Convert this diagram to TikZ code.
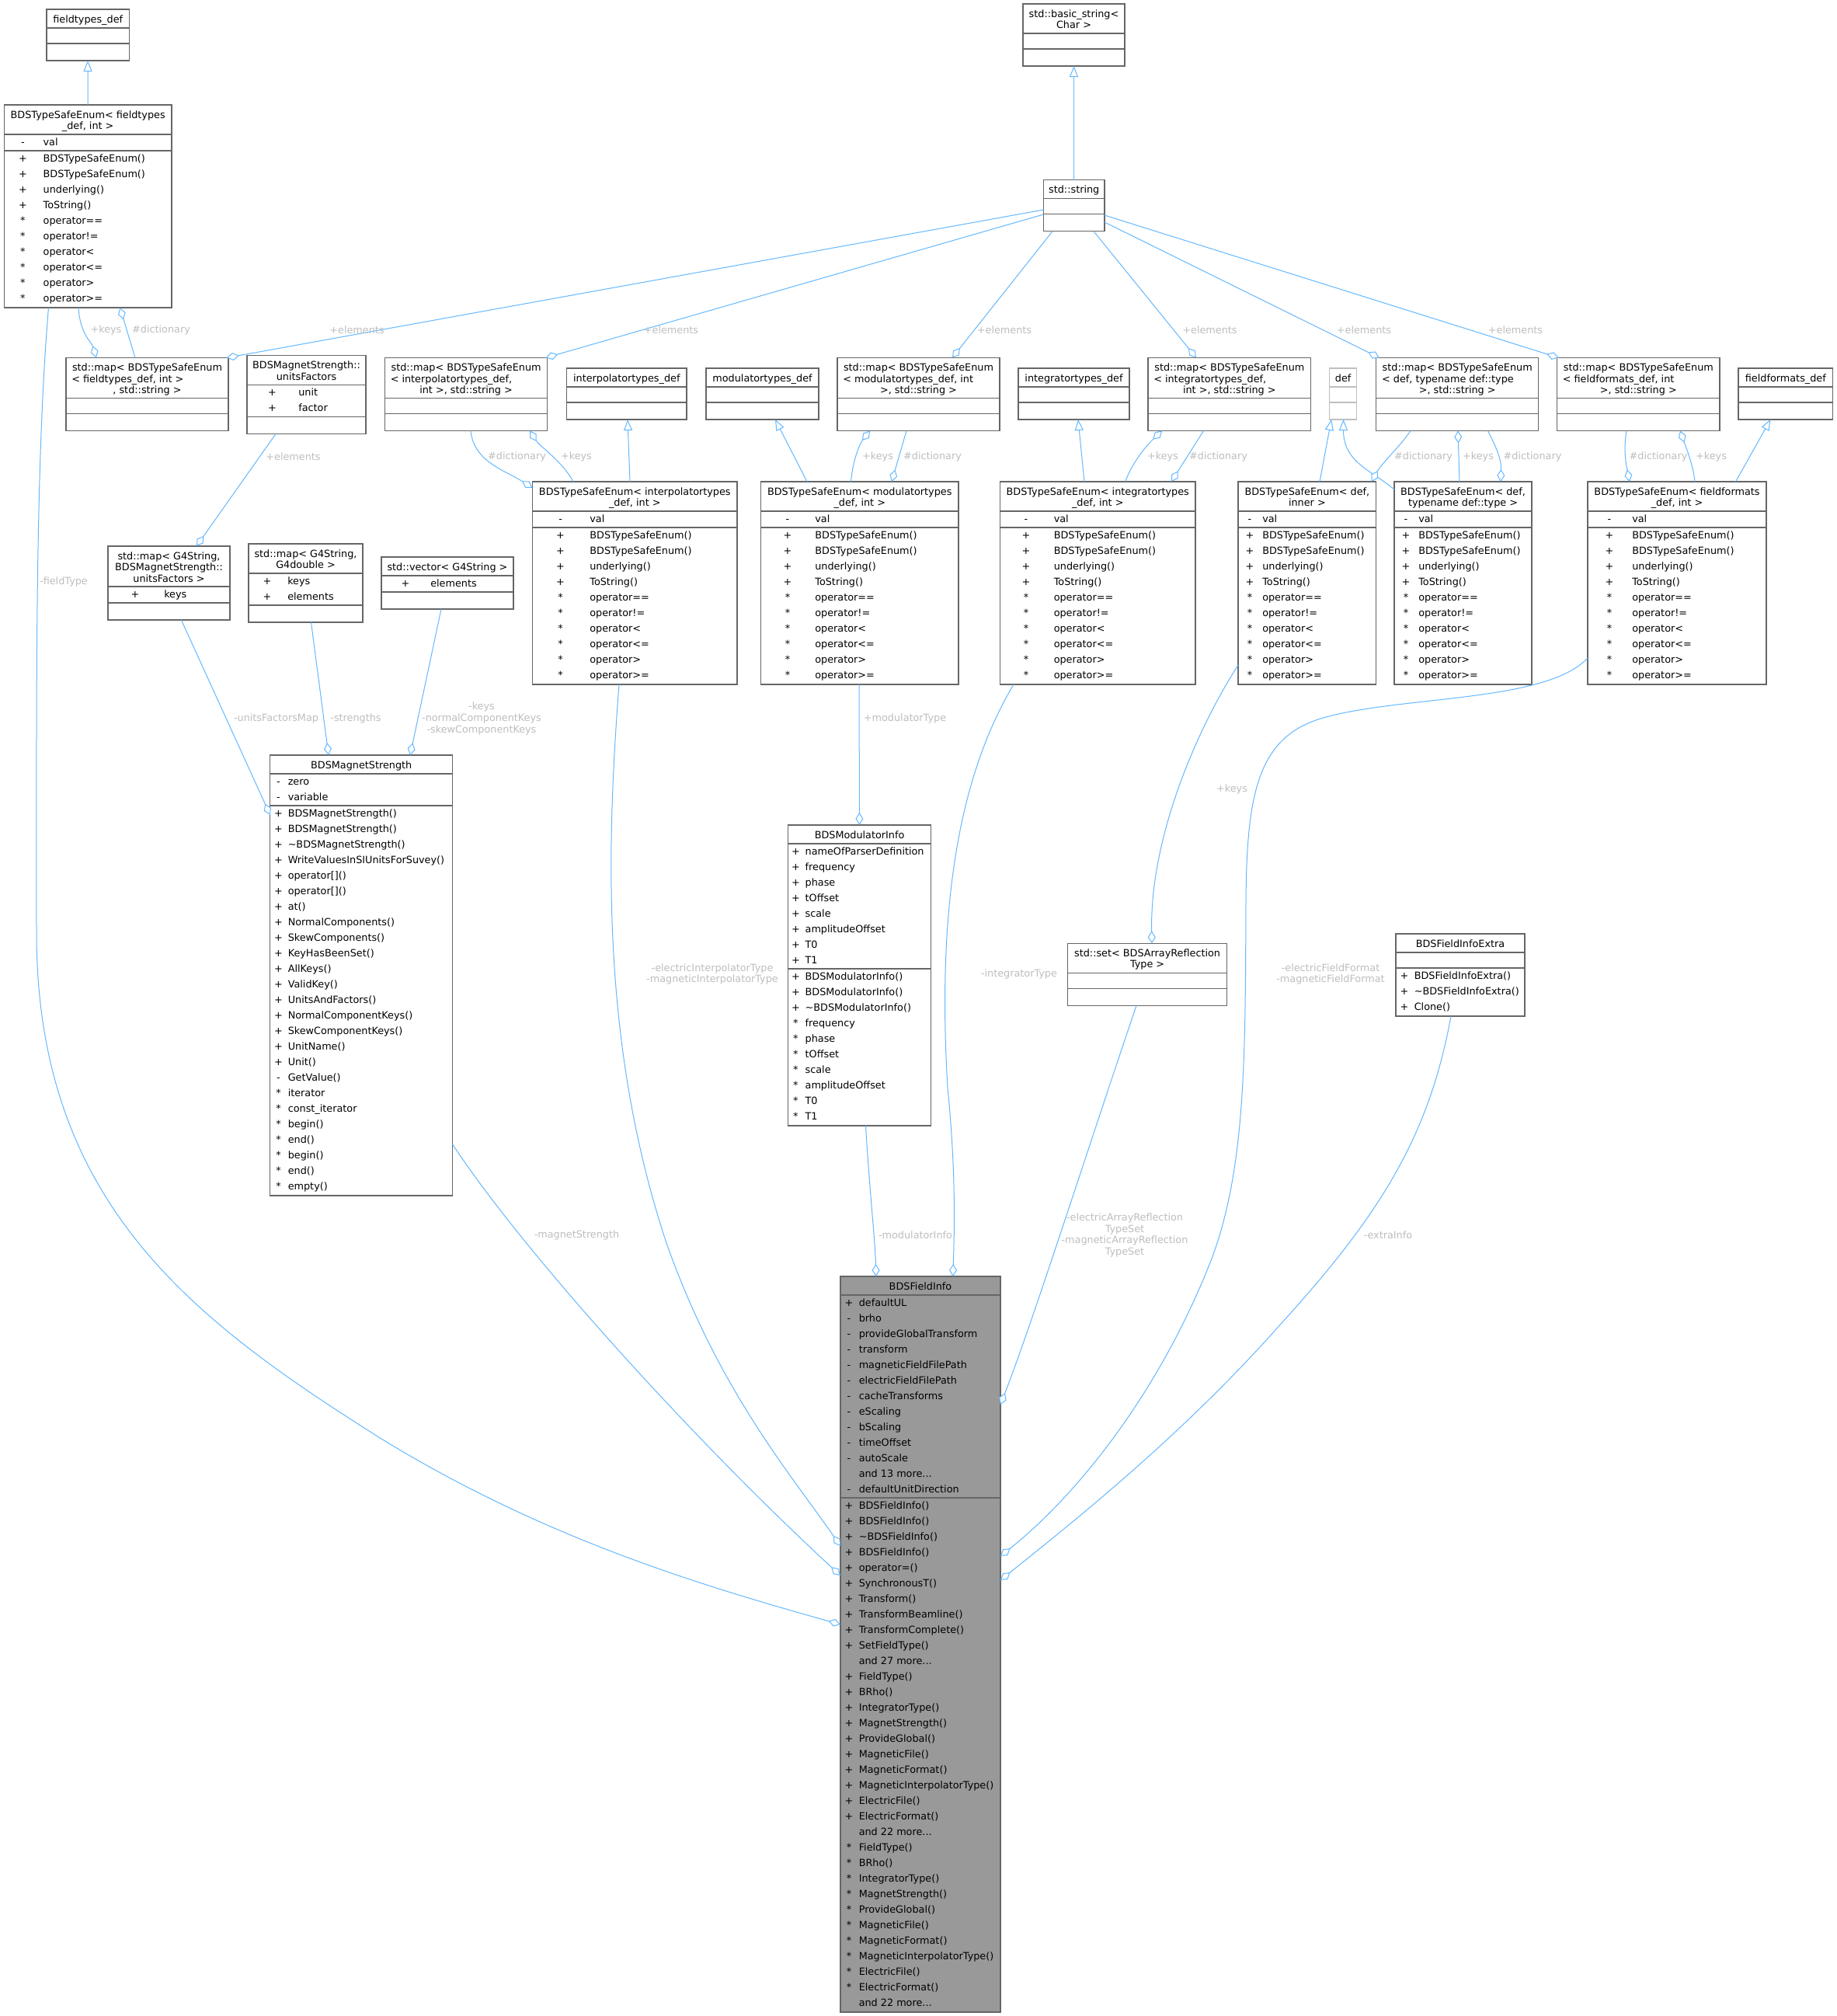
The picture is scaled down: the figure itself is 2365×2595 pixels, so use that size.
\documentclass[tikz,border=0pt]{standalone}
\usepackage{fontspec}
\setmainfont{DejaVu Sans}
\usetikzlibrary{fit,calc,arrows.meta}
\definecolor{edgeblue}{HTML}{63B8FF}
\definecolor{boxgray}{HTML}{666666}
\definecolor{defgray}{HTML}{BFBFBF}
\definecolor{labgray}{HTML}{BEBEBE}
\definecolor{mainfill}{HTML}{999999}
\newcommand\dfont{\fontsize{9.6}{10.95}\selectfont}
\newcommand\mdots{.{}.{}.}
\tikzset{
  umlbox/.style={draw=boxgray, fill=white, line width=0.9pt, inner sep=0pt, outer sep=0pt, rectangle},
  defbox/.style={draw=defgray},
  mainbox/.style={fill=mainfill},
  plainbox/.style={},
  rowtext/.style={font=\dfont, inner sep=0pt, text=black},
  lab/.style={font=\dfont, inner sep=0pt, text=labgray, align=center},
  conn/.style={draw=edgeblue, line width=0.75pt},
  agg/.style={conn, -{Diamond[fill=white, length=12pt, width=7.5pt]}},
  inh/.style={conn, -{Triangle[fill=white, length=10.5pt, width=8.25pt]}},
}
\newcommand\ubox[8]{%
  \pgfmathsetmacro\hT{10+14*#5}%
  \pgfmathsetmacro\hA{(#6==0)?20:(20*#6+1)}%
  \pgfmathsetmacro\hM{(#7==0)?22:(20*#7+2)}%
  \pgfmathsetmacro\yA{#3+\hT}%
  \pgfmathsetmacro\yM{\yA+\hA}%
  \pgfmathsetmacro\yB{\yM+\hM}%
  \pgfmathsetmacro\oM{\hT+\hA}%
  \expandafter\xdef\csname ub@#1@A\endcsname{\hT}%
  \expandafter\xdef\csname ub@#1@M\endcsname{\oM}%
  \node[umlbox,#8,fit={(#2,#3) (#4,\yB)}] (#1) {};
  \draw[draw=boxgray,line width=0.9pt,#8,fill=none] (#2,\yA) -- (#4,\yA) (#2,\yM) -- (#4,\yM);
}
\newcommand\urows[5]{%
  \edef\ubo{\csname ub@#1@#2\endcsname}%
  \foreach \sy/\tx [count=\ii from 0] in {#5}{%
    \pgfmathsetmacro\yy{\ubo+14+20*\ii}%
    \node[rowtext,anchor=base] (#1-#2-s\ii) at ($(#1.north west)+(#3,\yy)$) {\sy};
    \node[rowtext,anchor=base west] (#1-#2-t\ii) at ($(#1.north west)+(#4,\yy)$) {\tx};
  }%
}
\newcommand\utitle[3]{%
  \pgfmathsetmacro\yy{17+14.5*#2}%
  \node[rowtext,anchor=base] (#1-h#2) at ($(#1.north)+(0,\yy)$) {#3};}
\newcommand\utitleL[3]{%
  \pgfmathsetmacro\yy{17+14.5*#2}%
  \node[rowtext,anchor=base west] (#1-h#2) at ($(#1.north west)+(7,\yy)$) {#3};}
\newcommand\tserows[3]{%
  \urows{#1}{A}{#2}{#3}{-/val}%
  \urows{#1}{M}{#2}{#3}{+/BDSTypeSafeEnum(),+/BDSTypeSafeEnum(),+/underlying(),+/ToString(),*/operator==,*/operator!=,*/operator<,*/operator<=,*/operator>,*/operator>=}%
}
\begin{document}
\begin{tikzpicture}[x=0.75pt,y=-0.75pt]
\fill[white] (0,0) rectangle (2365,2595);
\useasboundingbox (0,0) rectangle (2365,2595);

% ---------- top rows ----------
\ubox{fdef}{60}{12}{166.5}{1}{0}{0}{plainbox}
\utitle{fdef}{0}{fieldtypes\_def}

\ubox{tsef}{5.4}{135}{221}{2}{1}{10}{plainbox}
\utitle{tsef}{0}{BDSTypeSafeEnum< fieldtypes}
\utitle{tsef}{1}{\_def, int >}
\tserows{tsef}{24}{50}

\ubox{bstr}{1317}{5}{1448}{2}{0}{0}{plainbox}
\utitle{bstr}{0}{std::basic\_string<}
\utitle{bstr}{1}{Char >}

\ubox{str}{1343.5}{231.7}{1422}{1}{0}{0}{plainbox}
\utitle{str}{0}{std::string}

\ubox{mapf}{85}{460.5}{294}{3}{0}{0}{plainbox}
\utitle{mapf}{0}{std::map< BDSTypeSafeEnum}
\utitleL{mapf}{1}{< fieldtypes\_def, int >}
\utitle{mapf}{2}{, std::string >}

\ubox{uf}{318}{457.5}{471}{2}{2}{0}{plainbox}
\utitle{uf}{0}{BDSMagnetStrength::}
\utitle{uf}{1}{unitsFactors}
\urows{uf}{A}{32.5}{66}{+/unit,+/factor}

\ubox{mapi}{495.5}{460.5}{704.7}{3}{0}{0}{plainbox}
\utitle{mapi}{0}{std::map< BDSTypeSafeEnum}
\utitleL{mapi}{1}{< interpolatortypes\_def,}
\utitle{mapi}{2}{int >, std::string >}

\ubox{idef}{729.6}{474}{884}{1}{0}{0}{plainbox}
\utitle{idef}{0}{interpolatortypes\_def}

\ubox{mdef}{909}{474}{1054}{1}{0}{0}{plainbox}
\utitle{mdef}{0}{modulatortypes\_def}

\ubox{mapm}{1078}{460.5}{1287}{3}{0}{0}{plainbox}
\utitle{mapm}{0}{std::map< BDSTypeSafeEnum}
\utitleL{mapm}{1}{< modulatortypes\_def, int}
\utitle{mapm}{2}{>, std::string >}

\ubox{intdef}{1311}{474}{1454}{1}{0}{0}{plainbox}
\utitle{intdef}{0}{integratortypes\_def}

\ubox{mapint}{1478}{460.5}{1687.7}{3}{0}{0}{plainbox}
\utitle{mapint}{0}{std::map< BDSTypeSafeEnum}
\utitleL{mapint}{1}{< integratortypes\_def,}
\utitle{mapint}{2}{int >, std::string >}

\ubox{def}{1711.7}{474}{1746.7}{1}{0}{0}{defbox}
\utitle{def}{0}{def}

\ubox{mapd}{1771.8}{460.5}{1980.6}{3}{0}{0}{plainbox}
\utitle{mapd}{0}{std::map< BDSTypeSafeEnum}
\utitleL{mapd}{1}{< def, typename def::type}
\utitle{mapd}{2}{>, std::string >}

\ubox{mapff}{2004.6}{460.5}{2214}{3}{0}{0}{plainbox}
\utitle{mapff}{0}{std::map< BDSTypeSafeEnum}
\utitleL{mapff}{1}{< fieldformats\_def, int}
\utitle{mapff}{2}{>, std::string >}

\ubox{ffdef}{2238}{474}{2359.7}{1}{0}{0}{plainbox}
\utitle{ffdef}{0}{fieldformats\_def}

% ---------- type safe enums ----------
\ubox{tsei}{685.6}{620}{949}{2}{1}{10}{plainbox}
\utitle{tsei}{0}{BDSTypeSafeEnum< interpolatortypes}
\utitle{tsei}{1}{\_def, int >}
\tserows{tsei}{36}{73.5}

\ubox{tsem}{979.5}{620}{1234}{2}{1}{10}{plainbox}
\utitle{tsem}{0}{BDSTypeSafeEnum< modulatortypes}
\utitle{tsem}{1}{\_def, int >}
\tserows{tsem}{34.5}{69.6}

\ubox{tseint}{1287.5}{620}{1539}{2}{1}{10}{plainbox}
\utitle{tseint}{0}{BDSTypeSafeEnum< integratortypes}
\utitle{tseint}{1}{\_def, int >}
\tserows{tseint}{33.5}{69}

\ubox{tsed1}{1594}{620}{1771.8}{2}{1}{10}{plainbox}
\utitle{tsed1}{0}{BDSTypeSafeEnum< def,}
\utitle{tsed1}{1}{inner >}
\tserows{tsed1}{15}{31}

\ubox{tsed2}{1795}{620}{1972}{2}{1}{10}{plainbox}
\utitle{tsed2}{0}{BDSTypeSafeEnum< def,}
\utitle{tsed2}{1}{typename def::type >}
\tserows{tsed2}{15}{31}

\ubox{tseff}{2044}{620}{2274}{2}{1}{10}{plainbox}
\utitle{tseff}{0}{BDSTypeSafeEnum< fieldformats}
\utitle{tseff}{1}{\_def, int >}
\tserows{tseff}{28}{57}

% ---------- magnet strength helpers ----------
\ubox{mapuf}{139}{703}{296}{3}{1}{0}{plainbox}
\utitle{mapuf}{0}{std::map< G4String,}
\utitle{mapuf}{1}{BDSMagnetStrength::}
\utitle{mapuf}{2}{unitsFactors >}
\urows{mapuf}{A}{35}{72}{+/keys}

\ubox{mapg4}{320}{700}{467}{2}{2}{0}{plainbox}
\utitle{mapg4}{0}{std::map< G4String,}
\utitle{mapg4}{1}{G4double >}
\urows{mapg4}{A}{24}{50}{+/keys,+/elements}

\ubox{vec}{491}{717}{661}{1}{1}{0}{plainbox}
\utitle{vec}{0}{std::vector< G4String >}
\urows{vec}{A}{31}{63}{+/elements}

\ubox{ms}{347.8}{972}{582.6}{1}{2}{25}{plainbox}
\utitle{ms}{0}{BDSMagnetStrength}
\urows{ms}{A}{10.7}{22.7}{-/zero,-/variable}
\urows{ms}{M}{10.7}{22.7}{+/BDSMagnetStrength(),+/BDSMagnetStrength(),+/\textasciitilde BDSMagnetStrength(),+/WriteValuesInSIUnitsForSuvey(),+/operator[](),+/operator[](),+/at(),+/NormalComponents(),+/SkewComponents(),+/KeyHasBeenSet(),+/AllKeys(),+/ValidKey(),+/UnitsAndFactors(),+/NormalComponentKeys(),+/SkewComponentKeys(),+/UnitName(),+/Unit(),-/GetValue(),*/iterator,*/const\_iterator,*/begin(),*/end(),*/begin(),*/end(),*/empty()}

\ubox{mod}{1014.4}{1062}{1198.7}{1}{8}{10}{plainbox}
\utitle{mod}{0}{BDSModulatorInfo}
\urows{mod}{A}{10}{22}{+/nameOfParserDefinition,+/frequency,+/phase,+/tOffset,+/scale,+/amplitudeOffset,+/T0,+/T1}
\urows{mod}{M}{10}{22}{+/BDSModulatorInfo(),+/BDSModulatorInfo(),+/\textasciitilde BDSModulatorInfo(),*/frequency,*/phase,*/tOffset,*/scale,*/amplitudeOffset,*/T0,*/T1}

\ubox{set}{1374.7}{1214.3}{1579.5}{2}{0}{0}{plainbox}
\utitle{set}{0}{std::set< BDSArrayReflection}
\utitle{set}{1}{Type >}

\ubox{extra}{1797}{1202}{1963}{1}{0}{3}{plainbox}
\utitle{extra}{0}{BDSFieldInfoExtra}
\urows{extra}{M}{11}{23.5}{+/BDSFieldInfoExtra(),+/\textasciitilde BDSFieldInfoExtra(),+/Clone()}

\ubox{fi}{1082}{1643}{1288}{1}{13}{33}{mainbox}
\utitle{fi}{0}{BDSFieldInfo}
\urows{fi}{A}{11}{23.5}{+/defaultUL,-/brho,-/provideGlobalTransform,-/transform,-/magneticFieldFilePath,-/electricFieldFilePath,-/cacheTransforms,-/eScaling,-/bScaling,-/timeOffset,-/autoScale,{}/and 13 more\mdots,-/defaultUnitDirection}
\urows{fi}{M}{11}{23.5}{+/BDSFieldInfo(),+/BDSFieldInfo(),+/\textasciitilde BDSFieldInfo(),+/BDSFieldInfo(),+/operator=(),+/SynchronousT(),+/Transform(),+/TransformBeamline(),+/TransformComplete(),+/SetFieldType(),{}/and 27 more\mdots,+/FieldType(),+/BRho(),+/IntegratorType(),+/MagnetStrength(),+/ProvideGlobal(),+/MagneticFile(),+/MagneticFormat(),+/MagneticInterpolatorType(),+/ElectricFile(),+/ElectricFormat(),{}/and 22 more\mdots,*/FieldType(),*/BRho(),*/IntegratorType(),*/MagnetStrength(),*/ProvideGlobal(),*/MagneticFile(),*/MagneticFormat(),*/MagneticInterpolatorType(),*/ElectricFile(),*/ElectricFormat(),{}/and 22 more\mdots}

% ---------- connectors ----------
\draw[inh] ($(tsef.north west)+(107.6,0)$) -- ($(fdef.south west)+(53,0)$);
\draw[agg] ($(tsef.south west)+(95.6,0)$) .. controls +(2,34) and +(-6,-20) .. ($(mapf.north west)+(39,0)$);
\draw[agg] ($(mapf.north west)+(89,0)$) -- ($(tsef.south west)+(149.1,0)$);
\draw[agg] ($(str.north west)+(0,38.3)$) -- ($(mapf.north east)+(-2,0)$);
\draw[agg] ($(str.north west)+(0,44.3)$) -- ($(mapi.north east)+(-2,0)$);
\draw[agg] ($(str.south west)+(11.5,0)$) -- ($(mapm.north west)+(148,0)$);
\draw[agg] ($(str.south west)+(64.5,0)$) -- ($(mapint.north west)+(62,0)$);
\draw[agg] ($(str.north east)+(0,54.3)$) -- ($(mapd.north west)+(4,0)$);
\draw[agg] ($(str.north east)+(0,45.3)$) -- ($(mapff.north west)+(2,0)$);
\draw[inh] ($(str.north west)+(39,0)$) -- ($(bstr.south west)+(65.5,0)$);
\draw[agg] ($(uf.south west)+(37,0)$) -- ($(mapuf.north west)+(114,0)$);
\draw[agg] ($(mapi.south west)+(110.5,0)$) .. controls +(4,40) and +(-36,-23) .. ($(tsei.north west)+(0,8)$);
\draw[agg] ($(tsei.north west)+(52.4,0)$) .. controls +(-13,-25) and +(13,20) .. ($(mapi.south west)+(186.5,0)$);
\draw[inh] ($(tsei.north west)+(125.4,0)$) -- ($(idef.south west)+(78.4,0)$);
\draw[inh] ($(tsem.north west)+(59.5,0)$) -- ($(mdef.south west)+(89,0)$);
\draw[agg] ($(tsem.north west)+(116,0)$) .. controls +(2.5,-30) and +(-12,15) .. ($(mapm.south west)+(42,0)$);
\draw[agg] ($(mapm.south west)+(89,0)$) -- ($(tsem.north west)+(168.5,0)$);
\draw[inh] ($(tseint.north west)+(108.5,0)$) -- ($(intdef.south west)+(77,0)$);
\draw[agg] ($(tseint.north west)+(161.1,0)$) .. controls +(9.4,-25) and +(-21,20) .. ($(mapint.south west)+(18,0)$);
\draw[agg] ($(mapint.south west)+(71.5,0)$) -- ($(tseint.north west)+(220.5,0)$);
\draw[inh] ($(tsed1.north west)+(105,0)$) -- ($(def.south west)+(2.3,0)$);
\draw[inh] ($(tsed2.north west)+(0,10)$) .. controls +(-30,-25) and +(0,55) .. ($(def.south west)+(17.8,0)$);
\draw[agg] ($(mapd.south west)+(44.2,0)$) .. controls +(-16,23) and +(14,-25) .. ($(tsed1.north east)+(-6,0)$);
\draw[agg] ($(tsed2.north west)+(84,0)$) -- ($(mapd.south west)+(105.2,0)$);
\draw[agg] ($(mapd.south west)+(143.7,0)$) .. controls +(10,20) and +(1,-30) .. ($(tsed2.north west)+(137,0)$);
\draw[agg] ($(mapff.south west)+(89.4,0)$) .. controls +(-4,25) and +(-5,-25) .. ($(tseff.north west)+(54,0)$);
\draw[agg] ($(tseff.north west)+(138,0)$) .. controls +(-2,-20) and +(9,25) .. ($(mapff.south west)+(158.4,0)$);
\draw[inh] ($(tseff.north west)+(190.5,0)$) -- ($(ffdef.south west)+(41.5,0)$);
\draw[agg] ($(mapuf.south west)+(94.4,0)$) -- ($(ms.north west)+(0,77)$);
\draw[agg] ($(mapg4.south west)+(80.5,0)$) -- ($(ms.north west)+(75.2,0)$);
\draw[agg] ($(vec.south west)+(77,0)$) -- ($(ms.north west)+(180.2,0)$);
\draw[agg] ($(tsef.south west)+(57.1,0)$) .. controls (45,600) and (47,900) .. (47,1200) .. controls (47,1550) and (250,1700) .. (491,1852) .. controls (700,1980) and (900,2040) .. ($(fi.north west)+(0,448)$);
\draw[agg] ($(ms.north east)+(0,501)$) .. controls (680,1620) and (900,1860) .. ($(fi.north west)+(0,385)$);
\draw[agg] ($(tsei.south west)+(111.4,0)$) .. controls (780,1100) and (775,1350) .. (858,1600) .. controls (925,1790) and (1020,1900) .. ($(fi.north west)+(0,347)$);
\draw[agg] ($(tsem.south west)+(126.5,0)$) -- ($(mod.north west)+(92.1,0)$);
\draw[agg] ($(mod.south west)+(100.1,0)$) .. controls +(5.5,91) and +(-0.7,-43) .. ($(fi.north west)+(45.7,0)$);
\draw[agg] ($(tseint.south west)+(17.5,0)$) .. controls (1240,990) and (1205,1150) .. (1220,1400) .. controls (1232,1520) and (1228,1600) .. ($(fi.north west)+(144.8,0)$);
\draw[agg] ($(tsed1.south west)+(0,-25)$) .. controls (1540,940) and (1480,1080) .. ($(set.north west)+(108.3,0)$);
\draw[agg] ($(set.south west)+(88.3,0)$) .. controls (1400,1480) and (1330,1700) .. ($(fi.north east)+(0,165)$);
\draw[agg] ($(tseff.south west)+(0,-34)$) .. controls (1990,905) and (1800,895) .. (1700,925) .. controls (1620,950) and (1605,1020) .. (1604,1160) .. controls (1603,1350) and (1605,1500) .. (1560,1620) .. controls (1490,1800) and (1380,1930) .. ($(fi.north east)+(0,360)$);
\draw[agg] ($(extra.south west)+(71,0)$) .. controls (1840,1460) and (1780,1560) .. (1650,1703) .. controls (1520,1850) and (1380,1960) .. ($(fi.north east)+(0,391)$);

% ---------- labels ----------
\node[lab] (L1) at (136.5,425) {+keys};
\node[lab] (L2) at (207.5,425) {\#dictionary};
\node[lab] (L3) at (459.5,425) {+elements};
\node[lab] (L4) at (864,425) {+elements};
\node[lab] (L5) at (1293,425) {+elements};
\node[lab] (L6) at (1557.5,425) {+elements};
\node[lab] (L7) at (1756,425) {+elements};
\node[lab] (L8) at (1951,425) {+elements};
\node[lab] (L9) at (377.5,588) {+elements};
\node[lab] (L10) at (665.5,588) {\#dictionary};
\node[lab] (L11) at (742,588) {+keys};
\node[lab] (L12) at (1130,588) {+keys};
\node[lab] (L13) at (1200.5,588) {\#dictionary};
\node[lab] (L14) at (1497,588) {+keys};
\node[lab] (L15) at (1568.5,588) {\#dictionary};
\node[lab] (L16) at (1832.5,588) {\#dictionary};
\node[lab] (L17) at (1903,588) {+keys};
\node[lab] (L18) at (1973,588) {\#dictionary};
\node[lab] (L19) at (2135,588) {\#dictionary};
\node[lab] (L20) at (2203,588) {+keys};
\node[lab] (L21) at (82,749) {-fieldType};
\node[lab] (L22) at (355.5,925) {-unitsFactorsMap};
\node[lab] (L23) at (458,925) {-strengths};
\node[lab] (L24) at (620,925) {-keys\\-normalComponentKeys\\-skewComponentKeys};
\node[lab] (L25) at (1165,925) {+modulatorType};
\node[lab] (L26) at (1586,1016) {+keys};
\node[lab] (L27) at (917,1254) {-electricInterpolatorType\\-magneticInterpolatorType};
\node[lab] (L28) at (1312,1254) {-integratorType};
\node[lab] (L29) at (1713,1254) {-electricFieldFormat\\-magneticFieldFormat};
\node[lab] (L30) at (742.5,1590) {-magnetStrength};
\node[lab] (L31) at (1178.5,1590) {-modulatorInfo};
\node[lab] (L32) at (1448,1590) {-electricArrayReflection\\TypeSet\\-magneticArrayReflection\\TypeSet};
\node[lab] (L33) at (1787,1590) {-extraInfo};
\end{tikzpicture}
\end{document}
